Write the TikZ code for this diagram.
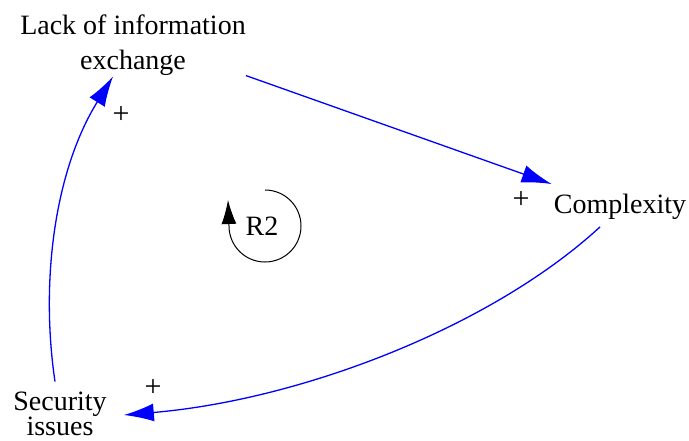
\documentclass[tikz,border=0pt]{standalone}
\usepackage{fontspec}
\setmainfont{Liberation Serif}
\usetikzlibrary{arrows.meta,calc}
\begin{document}
\begin{tikzpicture}[x=1pt,y=-1pt,
  lbl/.style={inner sep=0pt,align=center,font=\fontsize{28}{35}\selectfont},
  pol/.style={inner sep=0pt,font=\fontsize{30}{30}\selectfont},
  link/.style={draw=blue,line width=1.3pt,-{Latex[length=30pt,width=18pt]}},
  loopar/.style={draw=black,line width=1pt,-{Latex[length=24pt,width=15pt]}}]
\useasboundingbox (0,0) rectangle (689,441);
\node[lbl] (lack) at (133,45) {Lack of information\\exchange};
\node[lbl] (cx) at (620,207) {Complexity};
\node[lbl,font=\fontsize{28}{24}\selectfont] (sec) at (60,414) {Security\\issues};
\node[pol] (p1) at (121,115) {+};
\node[pol] (p2) at (521,200) {+};
\node[pol] (p3) at (153,388) {+};
\node[lbl] (r2) at (262,226) {R2};
\draw[link] (lack.south east) -- ($(cx.north west)+(-2,-10)$);
\draw[link] ($(cx.south)+(-20,7)$) .. controls (490,328) and (300,400) .. ($(sec.east)+(17,1)$);
\draw[link] ($(sec.north)+(-5,-10)$) .. controls (40,280) and (55,170) .. ($(lack.south)+(-20,1)$);
\draw[loopar] ($(r2.center)+(3,-36)$) arc[start angle=-90,end angle=180,radius=36] -- ++(-1,-26);
\end{tikzpicture}
\end{document}
